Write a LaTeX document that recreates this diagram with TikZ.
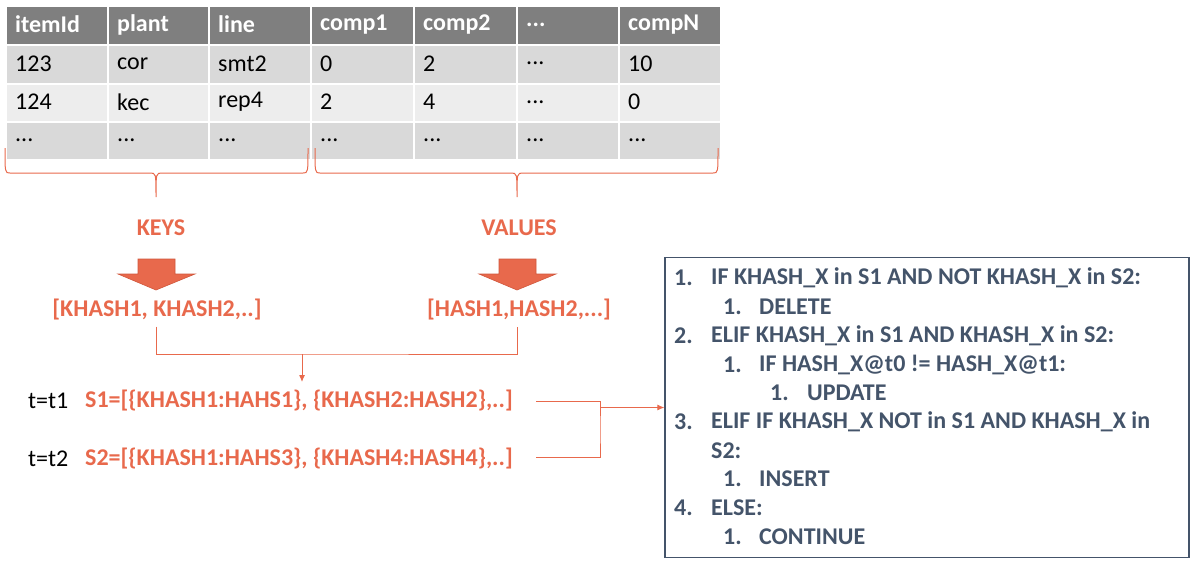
\documentclass[tikz,border=0pt]{standalone}
\usepackage{fontspec}
\setmainfont{Carlito}
\usetikzlibrary{arrows.meta}
\definecolor{org}{HTML}{E8694C}
\definecolor{orgdark}{HTML}{D0563B}
\definecolor{hdrgray}{HTML}{7F7F7F}
\definecolor{rowa}{HTML}{D9D9D9}
\definecolor{rowb}{HTML}{EDEDED}
\definecolor{slate}{HTML}{44546A}
\begin{document}
\begin{tikzpicture}[x=1pt,y=-1pt,
  cellbox/.style={draw=white, line width=2pt, anchor=north west, inner sep=0pt},
  hdrtxt/.style={font=\fontsize{24}{28}\selectfont\bfseries, text=white, anchor=west, inner sep=0pt},
  celltxt/.style={font=\fontsize{24}{28}\selectfont, text=black, anchor=west, inner sep=0pt},
  orgtxt/.style={font=\fontsize{24}{28}\selectfont\bfseries, text=org, inner sep=2pt},
  boxtxt/.style={font=\fontsize{24}{28}\selectfont\bfseries, text=slate, anchor=west, inner sep=0pt},
  conn/.style={draw=org, line width=1pt},
  arr/.style={conn, -{Latex[length=7pt,width=6pt]}},
  brace/.style={draw=org, line width=1pt},
  blockarrow/.style={fill=org, draw=orgdark, line width=0.6pt}
]
\useasboundingbox (0,0) rectangle (1196,563);

% header row
\foreach [count=\i] \t/\x/\w in {itemId/5/102, plant/107/101, line/208/102, comp1/310/103, comp2/413/103, {...}/516/102, compN/618/102}{
  \node[cellbox, fill=hdrgray, minimum width=\w, minimum height=39] (h\i) at (\x,5) {};
  \node[hdrtxt] (ht\i) at (\x+10,24.5) {\t};
}
% data rows
\foreach [count=\i] \t/\x/\w in {123/5/102, cor/107/101, smt2/208/102, 0/310/103, 2/413/103, {...}/516/102, 10/618/102}{
  \node[cellbox, fill=rowa, minimum width=\w, minimum height=39] (ra\i) at (\x,44) {};
  \node[celltxt] (rat\i) at (\x+10,63.5) {\t};
}
\foreach [count=\i] \t/\x/\w in {124/5/102, kec/107/101, rep4/208/102, 2/310/103, 4/413/103, {...}/516/102, 0/618/102}{
  \node[cellbox, fill=rowb, minimum width=\w, minimum height=38] (rb\i) at (\x,83) {};
  \node[celltxt] (rbt\i) at (\x+10,102) {\t};
}
\foreach [count=\i] \t/\x/\w in {{...}/5/102, {...}/107/101, {...}/208/102, {...}/310/103, {...}/413/103, {...}/516/102, {...}/618/102}{
  \node[cellbox, fill=rowa, minimum width=\w, minimum height=38] (rc\i) at (\x,121) {};
  \node[celltxt] (rct\i) at (\x+10,140) {\t};
}

% braces
\draw[brace] (5,148) .. controls (5,173) .. (10,173) -- (150,173) .. controls (156,173) .. (156,197)
  .. controls (156,173) .. (162,173) -- (303,173) .. controls (308,173) .. (308,148);
\draw[brace] (315,148) .. controls (315,173) .. (320,173) -- (511,173) .. controls (517,173) .. (517,197)
  .. controls (517,173) .. (523,173) -- (713,173) .. controls (718,173) .. (718,148);

% labels
\node[orgtxt] (keys) at (161,228) {KEYS};
\node[orgtxt] (vals) at (519,228) {VALUES};

% block arrows
\draw[blockarrow] (138,259) -- (175,259) -- (175,274) -- (195,274) -- (156,290) -- (118,274) -- (138,274) -- cycle;
\draw[blockarrow] (499,259) -- (536,259) -- (536,274) -- (556,274) -- (517,290) -- (479,274) -- (499,274) -- cycle;

\node[orgtxt] (klist) at (157,310) {[KHASH1, KHASH2,..]};
\node[orgtxt] (vlist) at (519,310) {[HASH1,HASH2,...]};

\coordinate (j) at (302,354);
\draw[conn] ([yshift=-4pt]klist.south -| 156,0) |- (j) -| ([yshift=-4pt]vlist.south -| 517,0);
\coordinate (jt) at (302,382);
\draw[arr] (j) -- (jt);

% sets
\node[celltxt] (t1) at (28,401) {t=t1};
\node[celltxt] (t2) at (28,459) {t=t2};
\node[orgtxt, anchor=west, inner sep=0pt] (s1) at (85,401) {S1=[\{KHASH1:HAHS1\}, \{KHASH2:HASH2\},..]};
\node[orgtxt, anchor=west, inner sep=0pt] (s2) at (85,459) {S2=[\{KHASH1:HAHS3\}, \{KHASH4:HASH4\},..]};
\coordinate (s1end) at (536,401);
\coordinate (s2end) at (536,457);
\coordinate (brk) at (600,430);
\draw[conn] (s1end) -| (brk) |- (s2end);

% rule box
\node[draw=slate, line width=1.2pt, minimum width=524, minimum height=300, inner sep=0pt] (box) at (927,407.5) {};
\draw[arr] (box.west -| brk) -- (box.west);

\node[boxtxt] (n1) at (674,278) {1.};   \node[boxtxt] (l1) at (711,278) {IF KHASH\_X in S1 AND NOT KHASH\_X in S2:};
\node[boxtxt] (n11) at (723,307) {1.};  \node[boxtxt] (l11) at (759,307) {DELETE};
\node[boxtxt] (n2) at (674,336) {2.};   \node[boxtxt] (l2) at (711,336) {ELIF KHASH\_X in S1 AND KHASH\_X in S2:};
\node[boxtxt] (n21) at (723,365) {1.};  \node[boxtxt] (l21) at (759,365) {IF HASH\_X@t0 != HASH\_X@t1:};
\node[boxtxt] (n211) at (770,393) {1.}; \node[boxtxt] (l211) at (807,393) {UPDATE};
\node[boxtxt] (n3) at (674,422) {3.};   \node[boxtxt] (l3) at (711,422) {ELIF IF KHASH\_X NOT in S1 AND KHASH\_X in};
\node[boxtxt] (l3b) at (711,451) {S2:};
\node[boxtxt] (n31) at (723,479) {1.};  \node[boxtxt] (l31) at (759,479) {INSERT};
\node[boxtxt] (n4) at (674,508) {4.};   \node[boxtxt] (l4) at (711,508) {ELSE:};
\node[boxtxt] (n41) at (723,537) {1.};  \node[boxtxt] (l41) at (759,537) {CONTINUE};
\end{tikzpicture}
\end{document}
